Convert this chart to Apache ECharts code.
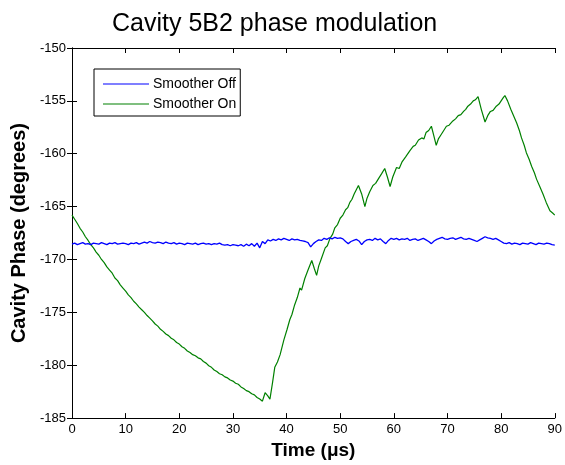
<!DOCTYPE html>
<html>
<head>
<meta charset="utf-8">
<script src="https://cdn.jsdelivr.net/npm/echarts@6/dist/echarts.min.js"></script>
<style>
html,body{margin:0;padding:0;background:#fff;}
#chart{width:565px;height:465px;}
</style>
</head>
<body>
<div id="chart"></div>
<script>
// ---- data ----
var titleText = 'Cavity 5B2 phase modulation';
var xName = 'Time (\u03bcs)';
var yName = 'Cavity Phase (degrees)';
var seriesNames = ['Smoother Off', 'Smoother On'];
var xMin = 0, xMax = 90, xStep = 10;
var yMin = -185, yMax = -150, yStep = 5;

// Smoother Off: sampled every 0.5 us from 0 to 90
var blueStep = 0.5;
var blueValues = [
  -168.55,-168.45,-168.6,-168.5,-168.4,-168.55,-168.5,-168.6,-168.45,-168.5,-168.55,-168.4,-168.5,-168.6,-168.45,-168.5,-168.4,-168.55,-168.5,-168.45,-168.5,
  -168.6,-168.45,-168.5,-168.4,-168.55,-168.45,-168.35,-168.45,-168.3,-168.4,-168.45,-168.35,-168.4,-168.5,-168.35,-168.45,-168.5,-168.4,-168.55,-168.45,
  -168.5,-168.6,-168.45,-168.5,-168.55,-168.45,-168.6,-168.5,-168.45,-168.55,-168.5,-168.6,-168.5,-168.55,-168.45,-168.6,-168.65,-168.6,-168.7,-168.6,
  -168.65,-168.7,-168.6,-168.75,-168.55,-168.7,-168.5,-168.75,-168.45,-168.9,-168.3,-168.5,
  -168.15,-168.25,-168.1,-168.2,-168.05,-168.15,-168.0,-168.1,-168.2,-168.05,-168.15,-168.1,-168.2,-168.25,-168.3,-168.4,-168.8,
  -168.5,-168.3,-168.15,-168.2,-168.0,-168.1,-167.95,-168.05,-167.9,-168.0,-167.95,
  -168.05,-168.3,-168.5,-168.3,-168.2,-168.1,-168.25,-168.6,-168.3,-168.15,-168.1,-168.2,
  -168.0,-168.15,-168.05,-168.3,-168.5,-168.2,-168.0,-168.1,-168.0,-168.15,-168.05,-168.1,
  -168.0,-168.2,-168.1,-168.05,-168.2,-168.1,-168.0,-168.15,-168.3,-168.5,-168.25,-168.1,-168.0,-167.9,-168.05,-168.1,
  -168.0,-167.95,-168.1,-168.0,-167.9,-168.05,-168.1,-168.0,-168.1,-168.2,-168.3,-168.15,-168.0,-167.85,-167.95,-168.0,-168.1,-168.0,-168.15,-168.3,
  -168.45,-168.5,-168.4,-168.55,-168.45,-168.5,-168.6,-168.45,-168.5,-168.55,-168.4,-168.5,-168.6,-168.45,-168.5,-168.55,-168.45,-168.5,-168.6,-168.65
];

// Smoother On
var greenTime = [
  0,0.5,1,1.5,2,2.5,3,3.5,4,4.5,5,5.5,6,6.5,7,7.5,8,8.5,9,9.5,
  10,10.5,11,11.5,12,12.5,13,13.5,14,14.5,15,15.5,16,16.5,17,17.5,18,18.5,19,19.5,
  20,20.5,21,21.5,22,22.5,23,23.5,24,24.5,25,25.5,26,26.5,27,27.5,28,28.5,29,29.5,
  30,30.5,31,31.5,32,32.5,33,33.5,34,34.5,35,35.5,36.0,36.5,36.9,37.4,37.8,38.3,38.8,39.5,
  40.1,40.6,41.0,41.5,42.0,42.5,42.8,43.4,44.0,44.7,45.2,45.6,46.0,46.5,47.2,47.6,48.1,48.6,49.0,49.5,
  50.0,50.5,51.0,51.4,51.8,52.2,52.6,53.0,53.4,54.0,54.6,55.0,55.5,56.1,56.6,57.2,57.7,58.3,58.8,59.3,
  59.8,60.5,61.0,61.5,62.2,63.0,63.6,64.0,64.6,65.2,65.6,66.0,66.5,67.0,67.4,67.9,68.3,68.8,69.3,69.8,
  70.3,71.0,71.5,72.0,72.5,73.0,73.4,73.8,74.3,74.8,75.2,75.7,76.3,77.0,77.5,78.0,78.5,79.1,79.6,80.0,
  80.4,80.7,81.2,81.8,82.4,82.9,83.4,83.8,84.3,84.7,85.2,85.7,86.2,86.6,87.2,87.8,88.4,89.1,89.6,90.0
];
var greenValues = [
  -165.8,-166.2,-166.6,-167.05,-167.4,-167.85,-168.2,-168.6,-168.9,-169.3,-169.6,-170.0,-170.3,-170.7,-171.0,-171.3,-171.75,-172.0,-172.4,-172.7,
  -173.0,-173.35,-173.6,-173.95,-174.2,-174.5,-174.75,-175.0,-175.3,-175.55,-175.8,-176.1,-176.3,-176.6,-176.8,-177.05,-177.2,-177.45,-177.6,-177.85,
  -178.0,-178.25,-178.4,-178.65,-178.8,-179.0,-179.1,-179.3,-179.4,-179.65,-179.8,-180.05,-180.2,-180.45,-180.6,-180.8,-180.9,-181.1,-181.2,-181.4,
  -181.5,-181.7,-181.8,-182.05,-182.2,-182.4,-182.5,-182.7,-182.8,-183.05,-183.2,-183.4,-182.6,-182.9,-183.2,-181.6,-180.2,-179.7,-179.0,-177.6,
  -176.6,-175.7,-175.2,-174.3,-173.6,-172.7,-172.9,-171.8,-171.0,-170.1,-170.9,-171.5,-170.6,-169.9,-168.9,-168.7,-168.0,-167.6,-167.0,-166.7,
  -166.1,-165.8,-165.3,-165.1,-164.6,-164.3,-163.8,-163.4,-163.0,-163.8,-165.0,-164.2,-163.6,-163.0,-162.8,-162.3,-161.9,-161.4,-162.2,-163.1,
  -162.2,-161.3,-161.4,-160.8,-160.3,-159.7,-159.3,-159.2,-158.7,-158.5,-158.6,-158.0,-157.8,-157.4,-158.2,-159.2,-158.6,-158.2,-157.8,-157.4,
  -157.3,-156.9,-156.7,-156.4,-156.3,-156.0,-155.8,-155.5,-155.3,-155.0,-154.9,-154.6,-155.8,-157.0,-156.4,-156.0,-155.9,-155.5,-155.3,-155.0,
  -154.7,-154.5,-155.0,-155.8,-156.5,-157.1,-157.8,-158.5,-159.2,-159.9,-160.5,-161.2,-161.8,-162.4,-163.1,-163.8,-164.6,-165.4,-165.6,-165.8
];

// ---- build ----
var blueData = blueValues.map(function (v, i) { return [i * blueStep, v]; });
var greenData = greenTime.map(function (t, i) { return [t, greenValues[i]]; });

var FONT = "'Liberation Sans', Arial, Helvetica, sans-serif";
var axisCommon = {
  axisLine: { show: true, lineStyle: { color: '#000', width: 1 } },
  axisTick: { show: true, inside: true, length: 5, lineStyle: { color: '#000', width: 1 } },
  splitLine: { show: false }
};

var chart = echarts.init(document.getElementById('chart'), null, { renderer: 'canvas' });
chart.setOption({
  animation: false,
  backgroundColor: '#fff',
  title: {
    text: titleText,
    left: 107, top: 7,
    textStyle: { fontFamily: FONT, fontSize: 25, fontWeight: 'normal', color: '#000' }
  },
  legend: {
    orient: 'vertical',
    left: 94, top: 69,
    padding: [8, 4, 5, 9],
    itemGap: 6,
    itemWidth: 46, itemHeight: 14,
    icon: 'path://M0,0L46,0L46,1L0,1Z',
    symbolKeepAspect: true,
    backgroundColor: '#fff',
    borderColor: '#000', borderWidth: 1, borderRadius: 0,
    textStyle: { fontFamily: FONT, fontSize: 14, color: '#000', padding: [0, 0, 0, -1] },
    data: seriesNames
  },
  grid: { left: 72, right: 9, top: 48, bottom: 44, containLabel: false },
  xAxis: [
    Object.assign({
      type: 'value', position: 'bottom', min: xMin, max: xMax, interval: xStep,
      name: xName, nameLocation: 'middle', nameGap: 21,
      nameTextStyle: { fontFamily: FONT, fontSize: 19, fontWeight: 'bold', color: '#000' },
      axisLabel: { margin: 5, fontFamily: FONT, fontSize: 13, color: '#000' }
    }, axisCommon),
    Object.assign({
      type: 'value', position: 'top', min: xMin, max: xMax, interval: xStep,
      axisLabel: { show: false }
    }, axisCommon)
  ],
  yAxis: [
    Object.assign({
      type: 'value', position: 'left', min: yMin, max: yMax, interval: yStep,
      name: yName, nameLocation: 'middle', nameGap: 40,
      nameTextStyle: { fontFamily: FONT, fontSize: 20, fontWeight: 'bold', color: '#000' },
      axisLabel: { margin: 6, fontFamily: FONT, fontSize: 13, color: '#000' }
    }, axisCommon),
    Object.assign({
      type: 'value', position: 'right', min: yMin, max: yMax, interval: yStep,
      axisLabel: { show: false }
    }, axisCommon)
  ],
  series: [
    {
      name: seriesNames[0], type: 'line', data: blueData,
      xAxisIndex: 0, yAxisIndex: 0,
      symbol: 'none', showSymbol: false,
      lineStyle: { color: '#0000ff', width: 1.3 }, itemStyle: { color: '#0000ff' },
      z: 3
    },
    {
      name: seriesNames[1], type: 'line', data: greenData,
      xAxisIndex: 0, yAxisIndex: 0,
      symbol: 'none', showSymbol: false,
      lineStyle: { color: '#008000', width: 1.2 }, itemStyle: { color: '#008000' },
      z: 2
    }
  ]
});
</script>
</body>
</html>
